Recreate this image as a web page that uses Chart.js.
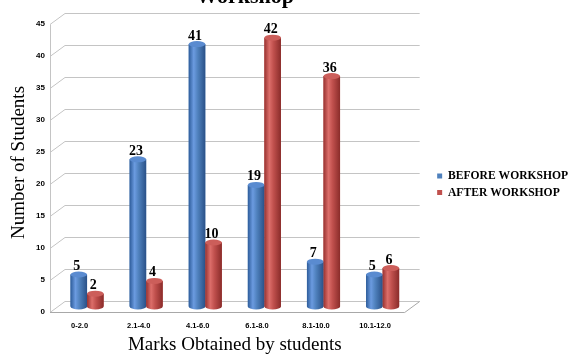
<!DOCTYPE html>
<html><head><meta charset="utf-8">
<script src="https://cdn.jsdelivr.net/npm/chart.js@4/dist/chart.umd.min.js"></script>
<style>html,body{margin:0;padding:0;background:#fff;overflow:hidden;}</style>
</head><body>
<canvas id="c" width="569" height="356" style="display:block;width:569px;height:356px"></canvas>
<script>
const categories = ['0-2.0','2.1-4.0','4.1-6.0','6.1-8.0','8.1-10.0','10.1-12.0'];
const beforeWorkshop = [5,23,41,19,7,5];
const afterWorkshop = [2,4,10,42,36,6];
const seriesNames = ['BEFORE WORKSHOP','AFTER WORKSHOP'];
const yTicks = [0,5,10,15,20,25,30,35,40,45];
const titleText = 'Workshop';
const xTitle = 'Marks Obtained by students';
const yTitle = 'Number of Students';

const DX = 7.5, DY = 5.5;
const palette = {
  blue: {base:'#4F81BD', edgeL:'#2d5c9a', hi:'#6b9be0', edgeR:'#2a5188', top:'#5a8bd0'},
  red:  {base:'#C0504D', edgeL:'#983230', hi:'#dc6e6a', edgeR:'#8a2c2a', top:'#cc5e5a'}
};
const styles = [palette.blue, palette.red];

const wallPlugin = {
  id:'wall',
  beforeDatasetsDraw(chart){
    const {ctx, chartArea:a} = chart;
    const ys = chart.scales.y;
    ctx.save();
    ctx.strokeStyle = '#c4c4c4';
    ctx.lineWidth = 1;
    const xf = a.left - DX, xb = a.left + DX, xr = a.right + DX;
    yTicks.forEach(v => {
      const ym = ys.getPixelForValue(v);
      const yf = Math.round(ym + DY) + 0.5, yb = Math.round(ym - DY) + 0.5;
      ctx.beginPath();
      ctx.moveTo(xf, yf); ctx.lineTo(xb, yb); ctx.lineTo(xr, yb);
      ctx.stroke();
    });
    const yTop = Math.round(ys.getPixelForValue(yTicks[yTicks.length-1]) + DY) + 0.5;
    const y0f = Math.round(ys.getPixelForValue(0) + DY) + 0.5;
    const y0b = Math.round(ys.getPixelForValue(0) - DY) + 0.5;
    ctx.beginPath();
    ctx.moveTo(Math.round(xf)+0.5, yTop); ctx.lineTo(Math.round(xf)+0.5, y0f);
    ctx.stroke();
    ctx.strokeStyle = '#a8a8a8';
    ctx.beginPath();
    ctx.moveTo(xf, y0f); ctx.lineTo(a.right - DX, y0f); ctx.lineTo(xr, y0b);
    ctx.stroke();
    ctx.restore();
  }
};

const cylPlugin = {
  id:'cyl',
  afterDatasetsDraw(chart){
    const ctx = chart.ctx;
    ctx.save();
    chart.data.datasets.forEach((ds, i) => {
      const meta = chart.getDatasetMeta(i);
      const st = styles[i];
      meta.data.forEach((bar) => {
        const {x, y, base, width} = bar.getProps(['x','y','base','width'], true);
        const l = x - width/2, r = x + width/2, ry = 3;
        const g = ctx.createLinearGradient(l, 0, r, 0);
        g.addColorStop(0, st.edgeL);
        g.addColorStop(0.3, st.hi);
        g.addColorStop(0.55, st.base);
        g.addColorStop(1, st.edgeR);
        ctx.fillStyle = g;
        ctx.beginPath();
        ctx.moveTo(l, y);
        ctx.lineTo(l, base);
        ctx.ellipse(x, base, width/2, ry, 0, Math.PI, 0, true);
        ctx.lineTo(r, y);
        ctx.closePath();
        ctx.fill();
        ctx.fillStyle = st.top;
        ctx.beginPath();
        ctx.ellipse(x, y, width/2, ry, 0, 0, Math.PI*2);
        ctx.fill();
      });
    });
    ctx.fillStyle = '#000';
    ctx.font = 'bold 14px "Liberation Serif", serif';
    ctx.textAlign = 'center';
    ctx.textBaseline = 'alphabetic';
    chart.data.datasets.forEach((ds, i) => {
      const meta = chart.getDatasetMeta(i);
      meta.data.forEach((bar, j) => {
        const {x, y} = bar.getProps(['x','y'], true);
        ctx.fillText(String(ds.data[j]), x - 2, y - 4.5);
      });
    });
    ctx.restore();
  }
};

const titlePlugin = {
  id:'cutTitle',
  afterDraw(chart){
    const ctx = chart.ctx;
    ctx.save();
    ctx.fillStyle = '#000';
    ctx.font = 'bold 22px "Liberation Serif", serif';
    ctx.textAlign = 'center';
    ctx.textBaseline = 'alphabetic';
    ctx.fillText(titleText, 245, 3);
    ctx.restore();
  }
};

new Chart(document.getElementById('c'), {
  type:'bar',
  data:{
    labels: categories,
    datasets:[
      {label: seriesNames[0], data: beforeWorkshop, backgroundColor: palette.blue.base, yAxisID:'y'},
      {label: seriesNames[1], data: afterWorkshop, backgroundColor: palette.red.base, yAxisID:'y'}
    ]
  },
  options:{
    responsive:false,
    animation:false,
    events:[],
    layout:{padding:{top:18.5, left:0, right:-9.1, bottom:6}},
    datasets:{bar:{categoryPercentage:0.56, barPercentage:1.0}},
    plugins:{
      tooltip:{enabled:false},
      title:{display:false},
      legend:{
        position:'right',
        align:'center',
        maxWidth:220,
        labels:{
          boxWidth:5, boxHeight:5, padding:5, color:'#000',
          font:{family:'"Liberation Serif", serif', size:11.6, weight:'bold'}
        }
      }
    },
    scales:{
      x:{
        grid:{display:false, drawTicks:false},
        border:{display:false},
        ticks:{color:'#000', padding:14.5, labelOffset:-DX, maxRotation:0, autoSkip:false,
          font:{family:'"Liberation Sans", sans-serif', size:7.5, weight:'bold'}},
        title:{display:true, text:xTitle, color:'#000', padding:{top:0,bottom:-6},
          font:{family:'"Liberation Serif", serif', size:19, weight:'normal'}},
        afterFit(s){ s.height = 43.5; }
      },
      y:{
        min:0, max:45,
        grid:{display:false, drawTicks:false},
        border:{display:false},
        afterBuildTicks(s){ s.ticks = yTicks.map(v => ({value:v})); },
        ticks:{color:'#000', padding:12.5, labelOffset:DY,
          font:{family:'"Liberation Sans", sans-serif', size:8, weight:'bold'}},
        title:{display:true, text:yTitle, color:'#000', padding:{top:8,bottom:0},
          font:{family:'"Liberation Serif", serif', size:19, weight:'normal'}},
        afterFit(s){ s.width = 57.5; }
      },
      yR:{
        type:'linear', position:'right', display:true,
        grid:{display:false, drawTicks:false},
        border:{display:false},
        ticks:{display:false},
        afterFit(s){ s.width = 20; }
      }
    }
  },
  plugins:[wallPlugin, cylPlugin, titlePlugin]
});
</script>
</body></html>
